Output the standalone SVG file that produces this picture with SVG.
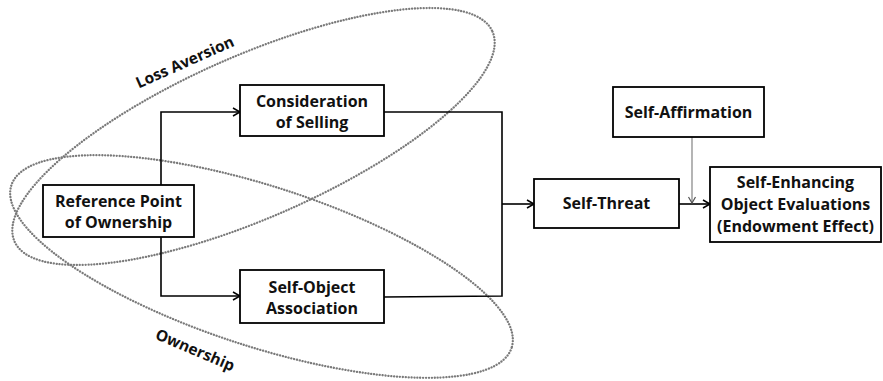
<svg xmlns="http://www.w3.org/2000/svg" width="883" height="381" viewBox="0 0 883 381">
<style>
.box{fill:#fff;stroke:#000;stroke-width:1.8}
.t{font-family:"Open Sans","Liberation Sans",sans-serif;font-weight:bold;font-size:16px;fill:#111;text-anchor:middle}
.lbl{font-family:"Open Sans","Liberation Sans",sans-serif;font-weight:bold;font-size:15.5px;fill:#111;text-anchor:middle}
.ell{fill:none;stroke:#7a7a7a;stroke-width:2.3;stroke-dasharray:0.1 2.8;stroke-linecap:round}
.c{fill:none;stroke:#000;stroke-width:1.6}
.cg{fill:none;stroke:#777;stroke-width:1.1}
</style>
<defs>
<marker id="ah" markerUnits="userSpaceOnUse" markerWidth="12" markerHeight="12" viewBox="0 0 12 12" refX="10" refY="6" orient="auto">
<path d="M3,2 L10,6 L3,10" fill="none" stroke="#000" stroke-width="1.5"/>
</marker>
<marker id="ahg" markerUnits="userSpaceOnUse" markerWidth="12" markerHeight="12" viewBox="0 0 12 12" refX="10" refY="6" orient="auto">
<path d="M4,2.5 L10,6 L4,9.5" fill="none" stroke="#555" stroke-width="1.2"/>
</marker>
</defs>
<rect width="883" height="381" fill="#fff"/>
<g id="ellipses">
<ellipse class="ell" cx="253.5" cy="136.5" rx="261" ry="81" transform="rotate(-23.7 253.5 136.5)"/>
<ellipse class="ell" cx="261.5" cy="266.5" rx="263" ry="80" transform="rotate(18 261.5 266.5)"/>
<text class="lbl" transform="translate(187 67) rotate(-24)">Loss Aversion</text>
<text class="lbl" transform="translate(193 355) rotate(23)">Ownership</text>
</g>
<g id="connectors">
<path class="c" d="M161,185 V112 H240" marker-end="url(#ah)"/>
<path class="c" d="M161,237 V296 H240" marker-end="url(#ah)"/>
<path class="c" d="M384,112 H502 V296 L384,297"/>
<path class="c" d="M502,204 H534" marker-end="url(#ah)"/>
<path class="c" d="M679,204 H710" marker-end="url(#ah)"/>
<path class="cg" d="M692,137 V203" marker-end="url(#ahg)"/>
</g>
<g id="reference-point">
<rect class="box" x="43" y="185" width="151" height="52"/>
<text class="t" x="118.5" y="207">Reference Point</text>
<text class="t" x="118.5" y="228">of Ownership</text>
</g>
<g id="consideration">
<rect class="box" x="240" y="85" width="144" height="51"/>
<text class="t" x="312" y="107">Consideration</text>
<text class="t" x="312" y="128">of Selling</text>
</g>
<g id="self-object">
<rect class="box" x="240" y="270" width="144" height="53"/>
<text class="t" x="312" y="293">Self-Object</text>
<text class="t" x="312" y="314">Association</text>
</g>
<g id="self-threat">
<rect class="box" x="534" y="179" width="145" height="49"/>
<text class="t" x="606.5" y="209">Self-Threat</text>
</g>
<g id="self-affirmation">
<rect class="box" x="613" y="87" width="151" height="50"/>
<text class="t" x="688.5" y="118">Self-Affirmation</text>
</g>
<g id="self-enhancing">
<rect class="box" x="710" y="167" width="171" height="75"/>
<text class="t" x="795.5" y="188">Self-Enhancing</text>
<text class="t" x="795.5" y="210">Object Evaluations</text>
<text class="t" x="795.5" y="232">(Endowment Effect)</text>
</g>
</svg>
